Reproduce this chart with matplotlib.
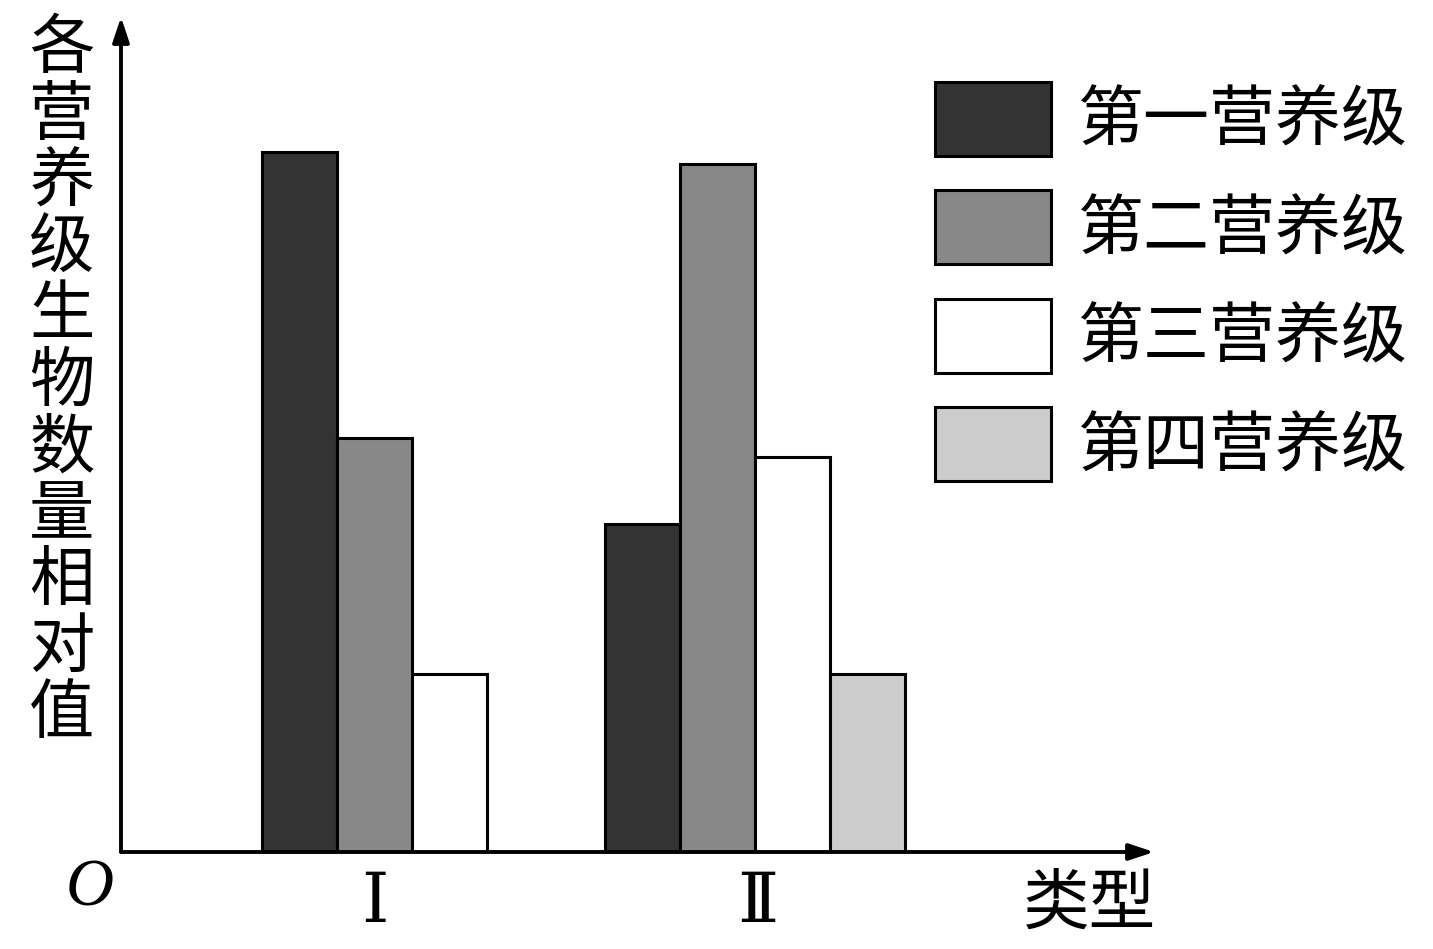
import matplotlib.pyplot as plt
from matplotlib.patches import Patch

plt.rcParams['font.family'] = ['Noto Sans CJK SC', 'DejaVu Sans']

# 数据（相对值）
levels = ['第一营养级', '第二营养级', '第三营养级', '第四营养级']
colors = ['#333333', '#888888', '#ffffff', '#cccccc']
types = ['Ⅰ', 'Ⅱ']
vals_I = [10.0, 5.91, 2.54]
vals_II = [4.69, 9.83, 5.64, 2.54]
group_left = [1.88, 6.453]

W, H = 1433, 949
fig = plt.figure(figsize=(W / 100, H / 100), dpi=100)
# 原点在 (121, 852) 像素处
x0, y0, x1, y1 = 121, 852, 1154, 17
ax = fig.add_axes([x0 / W, (H - y0) / H, (x1 - x0) / W, (y0 - y1) / H])
ax.set_xlim(0, (x1 - x0) / 75)
ax.set_ylim(0, (y0 - y1) / 70)
ax.axis('off')

for g, vals in enumerate([vals_I, vals_II]):
    for i, v in enumerate(vals):
        ax.bar(group_left[g] + i, v, width=1, align='edge', color=colors[i],
               edgecolor='black', linewidth=2.2, zorder=2)

# 坐标轴箭头
arrow = dict(arrowstyle='-|>,head_length=1.5,head_width=0.5', color='black',
             lw=2.8, shrinkA=0, shrinkB=0)
ax.annotate('', xy=(0, 1), xytext=(0, 0), xycoords='axes fraction', arrowprops=arrow)
ax.annotate('', xy=(1, 0), xytext=(0, 0), xycoords='axes fraction', arrowprops=arrow)

# 类别标签
for g, lab in enumerate(types):
    n = [len(vals_I), len(vals_II)][g]
    ax.text(group_left[g] + n / 2 + 0.04 * g, -0.72, lab, ha='center', va='center',
            fontsize=50, family=['DejaVu Serif', 'Noto Sans CJK SC'])

fig.text(90 / W, 1 - 889 / H, 'O', fontsize=48, style='italic',
         family='Liberation Serif', ha='center', va='center')
fig.text(1090 / W, 1 - 905 / H, '类型', fontsize=48, ha='center', va='center')

ylabel = '各营养级生物数量相对值'
for k, ch in enumerate(ylabel):
    fig.text(62 / W, 1 - (50 + 66.5 * k) / H, ch, fontsize=47,
             ha='center', va='center')

handles = [Patch(facecolor=c, edgecolor='black', linewidth=2.2) for c in colors]
ax.legend(handles, levels, loc='upper left', bbox_to_anchor=(935 / W, 1 - 82 / H),
          bbox_transform=fig.transFigure, frameon=False, fontsize=47.5,
          handlelength=1.76, handleheight=1.35, handletextpad=0.4,
          labelspacing=0.52, borderpad=0, borderaxespad=0)

fig.savefig('out.png', dpi=100)
